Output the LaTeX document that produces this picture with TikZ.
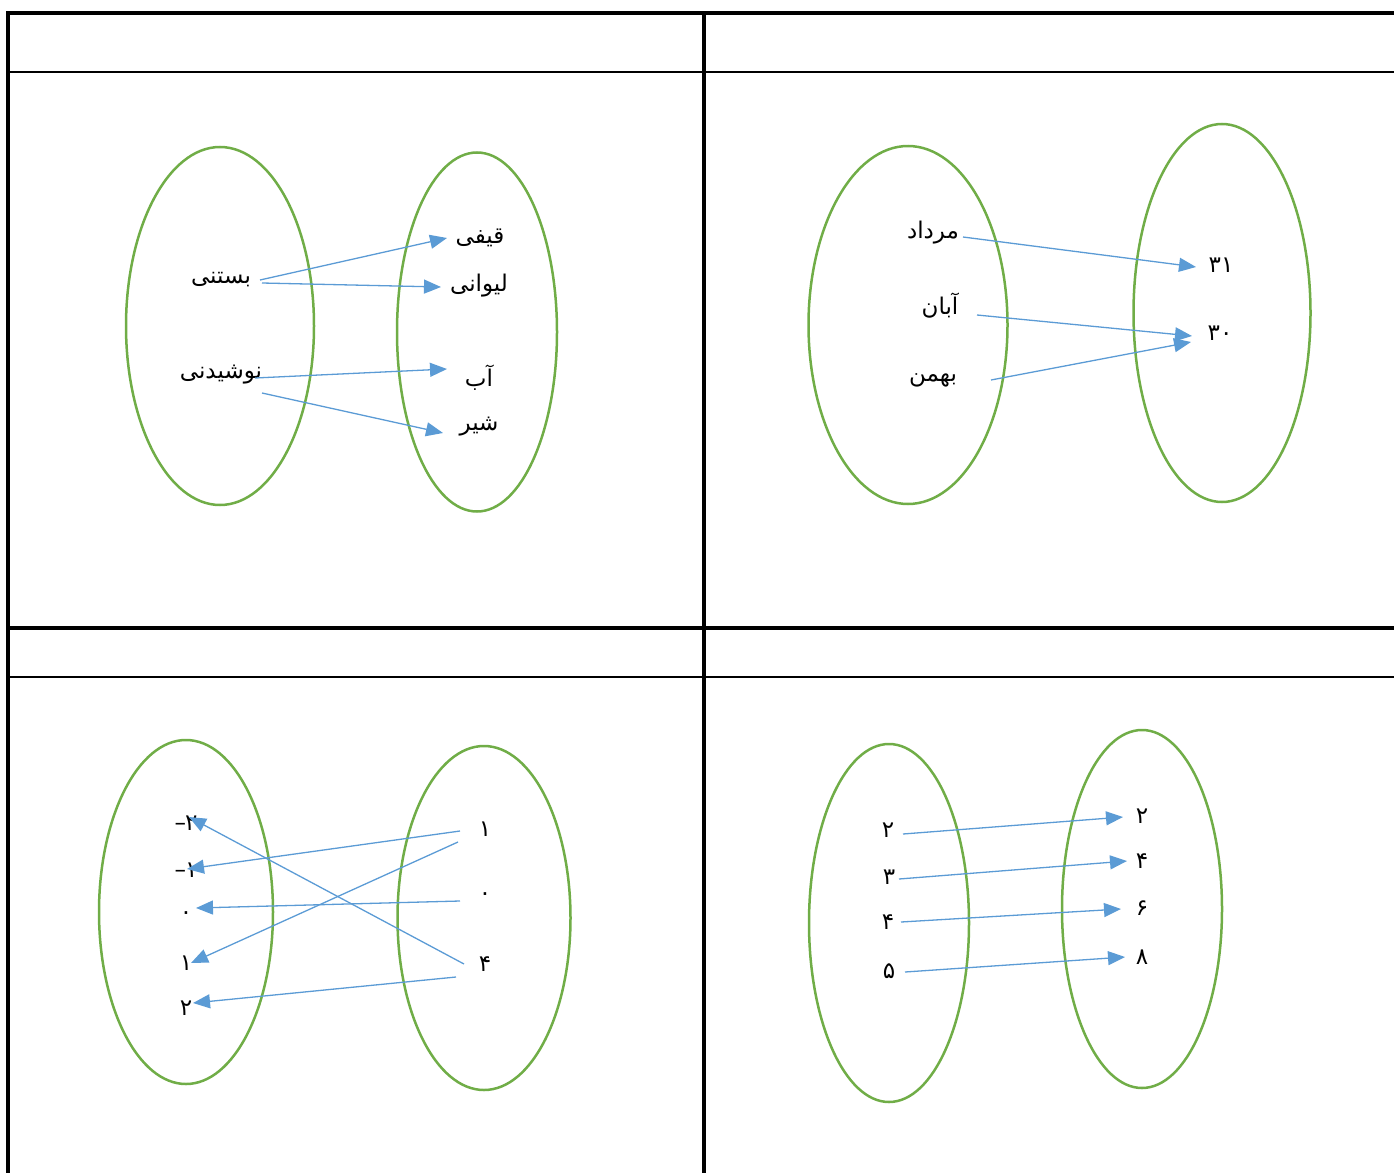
\documentclass[tikz,border=0pt]{standalone}
\usepackage{fontspec}
\newfontfamily\arabicfont[Script=Arabic]{DejaVu Sans}
\TeXXeTstate=1
\usetikzlibrary{arrows.meta,shapes.geometric}
\definecolor{ellgreen}{HTML}{70AD47}
\definecolor{arrblue}{HTML}{5B9BD5}
\tikzset{
  setell/.style={draw=ellgreen, line width=2.5pt, ellipse, inner sep=0pt},
  maparrow/.style={draw=arrblue, line width=1.3pt, -{Triangle[length=17pt,width=14pt,fill=arrblue]}},
  lbl/.style={font=\arabicfont\fontsize{23}{27}\selectfont, inner sep=0pt, text=black},
  thickrule/.style={line width=4pt, line cap=rect},
  thinrule/.style={line width=2pt}
}
\begin{document}
\begin{tikzpicture}[x=1pt,y=-1pt]
\useasboundingbox (0,0) rectangle (1394,1172);
% table rules
\coordinate (tl) at (8,13);
\coordinate (tr) at (1394,13);
\coordinate (bl) at (8,1172);
\coordinate (mt) at (704,13);
\coordinate (mb) at (704,1172);
\coordinate (hl) at (8,628);
\coordinate (hr) at (1394,628);
\coordinate (t1l) at (8,72);
\coordinate (t1r) at (1394,72);
\coordinate (t2l) at (8,677);
\coordinate (t2r) at (1394,677);
\draw[thickrule] (bl) -- (tl) -- (tr);
\draw[thickrule] (mt) -- (mb);
\draw[thickrule] (hl) -- (hr);
\draw[thinrule] (t1l) -- (t1r);
\draw[thinrule] (t2l) -- (t2r);

% ---------- top left ----------
\node[setell, minimum width=188pt, minimum height=358pt] (E1) at (220,326) {};
\node[setell, minimum width=160pt, minimum height=359pt] (E2) at (477,332) {};
\node[lbl] (a1) at (221,280) {\beginR بستنی\endR};
\node[lbl] (a2) at (221,375) {\beginR نوشیدنی\endR};
\node[lbl] (b1) at (480,238) {\beginR قیفی\endR};
\node[lbl] (b2) at (479,286) {\beginR لیوانی\endR};
\node[lbl] (b3) at (479,378) {\beginR آب\endR};
\node[lbl] (b4) at (479,427) {\beginR شیر\endR};
\coordinate (a1s1) at (260,280);
\coordinate (a1s2) at (262,283);
\coordinate (a2s1) at (255,378);
\coordinate (a2s2) at (262,393);
\coordinate (b1e) at (447,238);
\coordinate (b2e) at (441,287);
\coordinate (b3e) at (447,369);
\coordinate (b4e) at (443,433);
\draw[maparrow] (a1s1) -- (b1e);
\draw[maparrow] (a1s2) -- (b2e);
\draw[maparrow] (a2s1) -- (b3e);
\draw[maparrow] (a2s2) -- (b4e);

% ---------- top right ----------
\node[setell, minimum width=199pt, minimum height=358pt] (E3) at (908,325) {};
\node[setell, minimum width=177pt, minimum height=378pt] (E4) at (1222,313) {};
\node[lbl] (c1) at (933,233) {\beginR مرداد\endR};
\node[lbl] (c2) at (940,306) {\beginR آبان\endR};
\node[lbl] (c3) at (933,380) {\beginR بهمن\endR};
\node[lbl] (d1) at (1221,265) {۳۱};
\node[lbl] (d2) at (1220,333) {۳۰};
\coordinate (c1s) at (963,237);
\coordinate (c2s) at (977,315);
\coordinate (c3s) at (991,380);
\coordinate (d1e) at (1196,267);
\coordinate (d2e) at (1192,336);
\coordinate (d2e2) at (1191,342);
\draw[maparrow] (c1s) -- (d1e);
\draw[maparrow] (c2s) -- (d2e);
\draw[maparrow] (c3s) -- (d2e2);

% ---------- bottom left ----------
\node[setell, minimum width=174pt, minimum height=344pt] (E5) at (186,912) {};
\node[setell, minimum width=173pt, minimum height=344pt] (E6) at (484,918) {};
\node[lbl] (f1) at (186,823) {\hbox{–}\kern-1pt\hbox{۲}};
\node[lbl] (f2) at (186,870) {\hbox{–}\kern-1pt\hbox{۱}};
\node[lbl] (f3) at (186,916) {۰};
\node[lbl] (f4) at (186,963) {۱};
\node[lbl] (f5) at (186,1008) {۲};
\node[lbl] (g1) at (485,829) {۱};
\node[lbl] (g2) at (485,897) {۰};
\node[lbl] (g3) at (485,964) {۴};
\coordinate (g1s1) at (460,831);
\coordinate (g1s2) at (458,842);
\coordinate (g2s) at (460,901);
\coordinate (g3s1) at (464,964);
\coordinate (g3s2) at (456,977);
\coordinate (f1e) at (189,817);
\coordinate (f2e) at (187,869);
\coordinate (f3e) at (196,908);
\coordinate (f4e) at (191,963);
\coordinate (f5e) at (193,1003);
\draw[maparrow] (g1s1) -- (f2e);
\draw[maparrow] (g1s2) -- (f4e);
\draw[maparrow] (g2s) -- (f3e);
\draw[maparrow] (g3s1) -- (f1e);
\draw[maparrow] (g3s2) -- (f5e);

% ---------- bottom right ----------
\node[setell, minimum width=160pt, minimum height=358pt] (E7) at (889,923) {};
\node[setell, minimum width=160pt, minimum height=358pt] (E8) at (1142,909) {};
\node[lbl] (h1) at (888,830) {۲};
\node[lbl] (h2) at (889,877) {۳};
\node[lbl] (h3) at (888,922) {۴};
\node[lbl] (h4) at (889,971) {۵};
\node[lbl] (k1) at (1142,816) {۲};
\node[lbl] (k2) at (1142,861) {۴};
\node[lbl] (k3) at (1142,908) {۶};
\node[lbl] (k4) at (1142,957) {۸};
\coordinate (h1s) at (903,834);
\coordinate (h2s) at (899,879);
\coordinate (h3s) at (901,922);
\coordinate (h4s) at (905,972);
\coordinate (k1e) at (1123,817);
\coordinate (k2e) at (1127,861);
\coordinate (k3e) at (1121,909);
\coordinate (k4e) at (1125,957);
\draw[maparrow] (h1s) -- (k1e);
\draw[maparrow] (h2s) -- (k2e);
\draw[maparrow] (h3s) -- (k3e);
\draw[maparrow] (h4s) -- (k4e);
\end{tikzpicture}
\end{document}
